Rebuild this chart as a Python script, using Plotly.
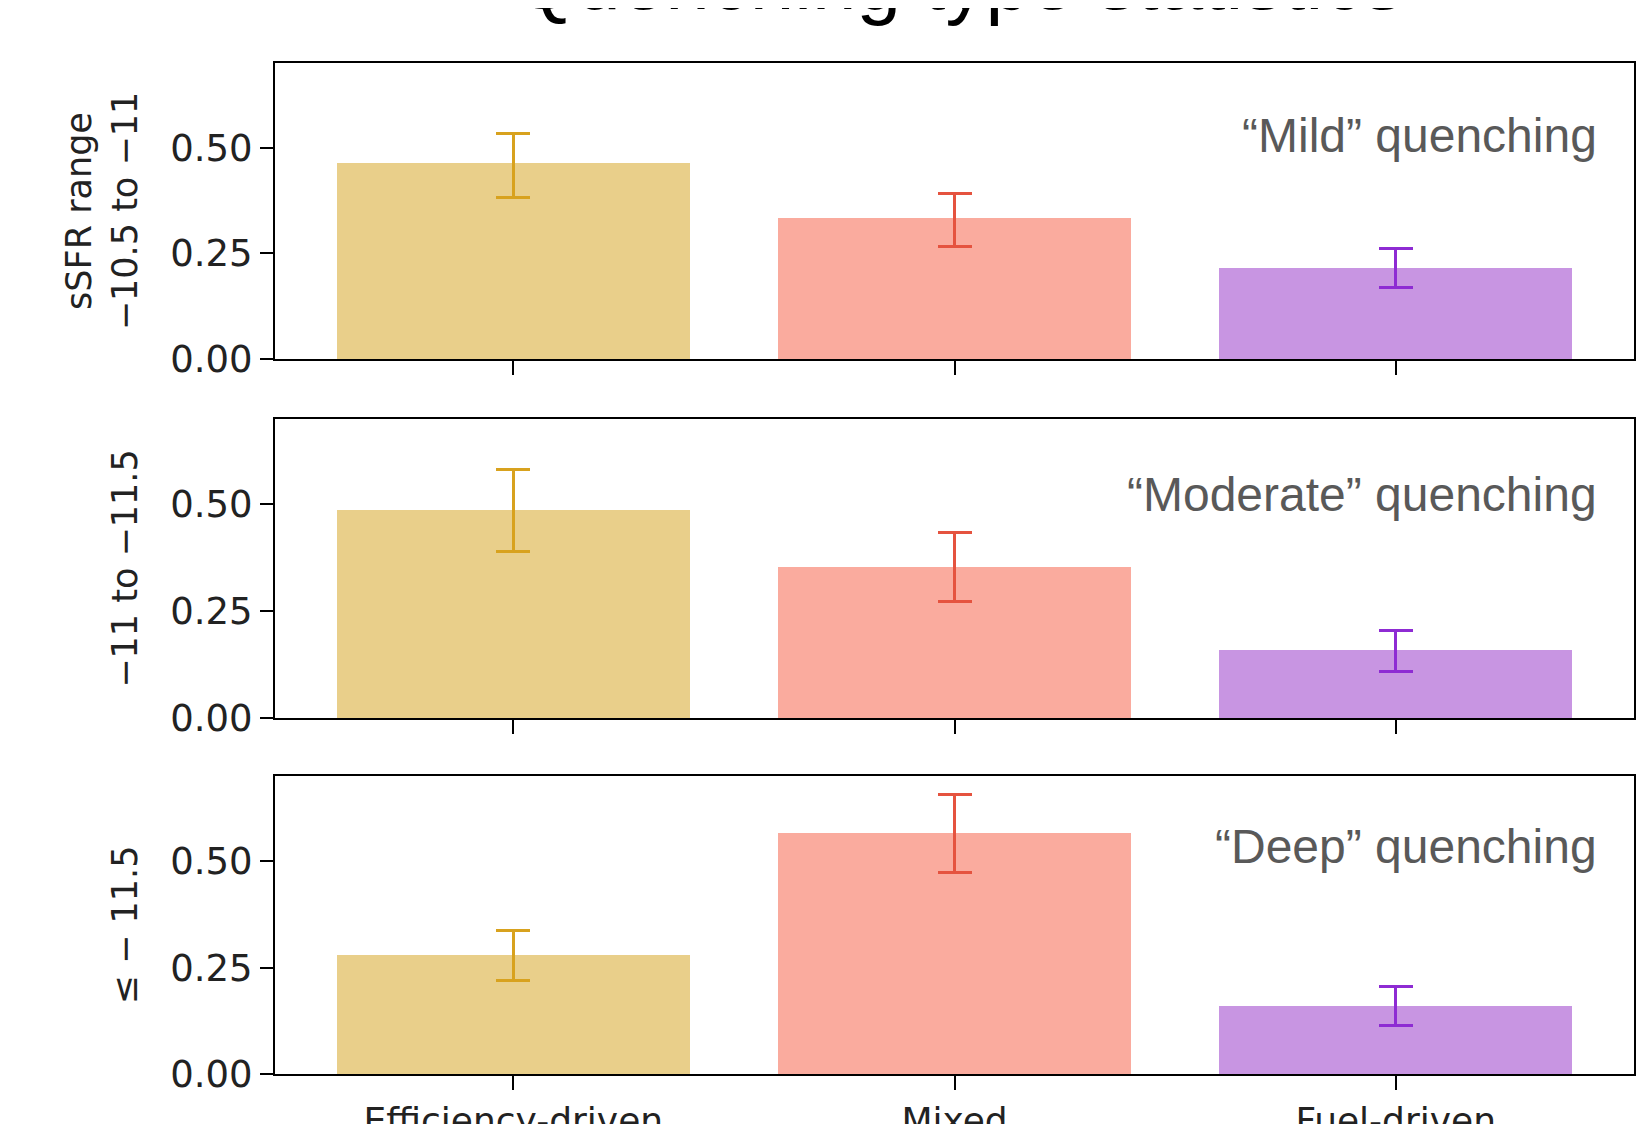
import plotly.graph_objects as go
from plotly.subplots import make_subplots

# ---------------- data ----------------
categories = ["Efficiency-driven", "Mixed", "Fuel-driven"]
x_positions = [0, 1, 2]
yticks = [0.0, 0.25, 0.5]
ytick_labels = ["0.00", "0.25", "0.50"]

panel_labels = ["sSFR range<br>−10.5 to −11", "−11 to −11.5", "≤ − 11.5"]
panel_notes = ["“Mild” quenching", "“Moderate” quenching", "“Deep” quenching"]
title_text = "Quenching type statistics"

mild_values = [0.464, 0.334, 0.215]
mild_err_plus = [0.069, 0.057, 0.046]
mild_err_minus = [0.081, 0.067, 0.046]

moderate_values = [0.488, 0.354, 0.160]
moderate_err_plus = [0.094, 0.081, 0.044]
moderate_err_minus = [0.099, 0.081, 0.052]

deep_values = [0.279, 0.567, 0.160]
deep_err_plus = [0.057, 0.089, 0.046]
deep_err_minus = [0.059, 0.093, 0.045]

panels = [
    (mild_values, mild_err_plus, mild_err_minus),
    (moderate_values, moderate_err_plus, moderate_err_minus),
    (deep_values, deep_err_plus, deep_err_minus),
]

# ---------------- style ----------------
fill_colors = ["#E9CF8A", "#FAAB9E", "#C895E2"]
err_colors = ["#D8A21E", "#E5533F", "#8E2BD3"]
W, H = 1652, 1124
OFF = 8  # page body margin
m_l, m_r, m_t, m_b = 275 - OFF, 26, 63 - OFF, 58
plot_h = H - m_t - m_b
panel_px = [(63 - OFF, 359 - OFF), (419 - OFF, 718 - OFF), (776 - OFF, 1074 - OFF)]
note_shift = [-43.6, -46.6, -41.6]

def dom(top, bot):
    return [(H - m_b - bot) / plot_h, (H - m_b - top) / plot_h]

fig = make_subplots(rows=3, cols=1)

for r, (vals, ep, em) in enumerate(panels, start=1):
    for i in range(3):
        fig.add_trace(
            go.Bar(
                x=[x_positions[i]],
                y=[vals[i]],
                width=0.8,
                marker=dict(color=fill_colors[i], line=dict(width=0)),
                error_y=dict(
                    type="data",
                    symmetric=False,
                    array=[ep[i]],
                    arrayminus=[em[i]],
                    color=err_colors[i],
                    thickness=3,
                    width=17,
                ),
                showlegend=False,
                hoverinfo="skip",
            ),
            row=r,
            col=1,
        )

tick_font = dict(family="DejaVu Sans", size=37, color="#222222")
for r in range(1, 4):
    top, bot = panel_px[r - 1]
    yname = "yaxis" if r == 1 else f"yaxis{r}"
    xname = "xaxis" if r == 1 else f"xaxis{r}"
    fig.layout[yname].update(
        domain=dom(top, bot),
        range=[0, 0.7],
        tickvals=yticks,
        ticktext=ytick_labels,
        ticks="outside",
        ticklen=13,
        tickwidth=2,
        tickcolor="black",
        tickfont=tick_font,
        showline=True,
        linecolor="black",
        linewidth=2,
        mirror=True,
        showgrid=False,
        zeroline=False,
        title=dict(text=panel_labels[r - 1], font=dict(family="DejaVu Sans", size=35, color="#222222"), standoff=22),
    )
    fig.layout[xname].update(
        range=[-0.54, 2.54],
        tickvals=x_positions,
        ticktext=categories,
        showticklabels=(r == 3),
        ticks="outside",
        ticklen=14,
        tickwidth=2,
        tickcolor="black",
        tickfont=dict(family="DejaVu Sans", size=36, color="#222222"),
        showline=True,
        linecolor="black",
        linewidth=2,
        mirror=True,
        showgrid=False,
        zeroline=False,
    )
    xref = "x" if r == 1 else f"x{r}"
    yref = "y" if r == 1 else f"y{r}"
    fig.add_annotation(
        text=panel_notes[r - 1],
        xref=f"{xref} domain",
        yref=f"{yref} domain",
        x=1,
        y=1,
        xanchor="right",
        yanchor="top",
        xshift=-35,
        yshift=note_shift[r - 1],
        showarrow=False,
        font=dict(family="Liberation Sans", size=48, color="#595959"),
    )

fig.add_annotation(
    text=title_text,
    xref="paper",
    yref="paper",
    x=(958 - 275) / (1634 - 275),
    y=1,
    xanchor="center",
    yanchor="bottom",
    yshift=35,
    showarrow=False,
    font=dict(family="Liberation Sans", size=80, color="black"),
)

fig.update_layout(
    width=W,
    height=H,
    margin=dict(l=m_l, r=m_r, t=m_t, b=m_b, autoexpand=False),
    plot_bgcolor="white",
    paper_bgcolor="white",
    barmode="overlay",
    bargap=0,
)

fig.write_html("out.html")
